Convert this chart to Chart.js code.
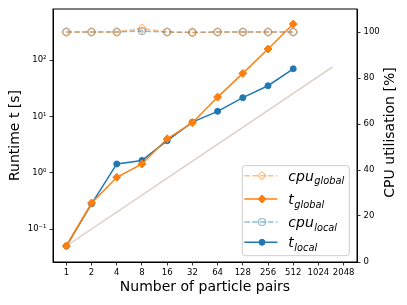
<!DOCTYPE html>
<html>
<head>
<meta charset="utf-8">
<script src="https://cdn.jsdelivr.net/npm/chart.js@4.4.0/dist/chart.umd.min.js"></script>
<style>
  html, body { margin: 0; padding: 0; background: #fff; }
  #wrap { width: 407px; height: 305px; }
</style>
</head>
<body>
<div id="wrap"><canvas id="runtimeChart" width="407" height="305"></canvas></div>
<script>
// Runtime and CPU utilisation against number of particle pairs (log2 x, log10 runtime)

const particlePairs = [1, 2, 4, 8, 16, 32, 64, 128, 256, 512];
const xTickLabels = ['1', '2', '4', '8', '16', '32', '64', '128', '256', '512', '1024', '2048'];

const tGlobal = [0.05, 0.29, 0.83, 1.43, 4.0, 7.7, 22, 58, 157, 436];
const tLocal = [0.05, 0.28, 1.43, 1.65, 3.7, 7.9, 12.3, 21.5, 35, 70];
const cpuGlobal = [100, 100, 100, 101.5, 100, 99.8, 100, 100, 100, 100];
const cpuLocal = [100, 100, 100, 100.4, 100, 99.8, 100, 100, 100, 100];

// ideal linear scaling reference
const idealPairs = [1, 1500];
const idealTime = [0.05, 75];

const runtimeTicks = [0.1, 1, 10, 100];
const runtimeTickLabels = ['10⁻¹', '10⁰', '10¹', '10²'];
const cpuTicks = [0, 20, 40, 60, 80, 100];

const BLUE = '#1f77b4';
const ORANGE = '#ff7f0e';
const BLUE_FADED = 'rgba(31,119,180,0.5)';
const ORANGE_FADED = 'rgba(255,127,14,0.5)';
const DASH = [5.5, 2.4];
const FONT = '"DejaVu Sans", sans-serif';

function toPoints(xs, ys) {
  return xs.map((n, i) => ({ x: Math.log2(n), y: ys[i] }));
}

const legendEntries = [
  { main: 'cpu', sub: 'global', color: ORANGE_FADED, dash: DASH, marker: 'diamond', filled: false },
  { main: 't', sub: 'global', color: ORANGE, dash: [], marker: 'diamond', filled: true },
  { main: 'cpu', sub: 'local', color: BLUE_FADED, dash: DASH, marker: 'circle', filled: false },
  { main: 't', sub: 'local', color: BLUE, dash: [], marker: 'circle', filled: true }
];

function drawMarker(ctx, kind, x, y, filled, color) {
  ctx.beginPath();
  if (kind === 'diamond') {
    const r = 4;
    ctx.moveTo(x, y - r); ctx.lineTo(x + r, y); ctx.lineTo(x, y + r); ctx.lineTo(x - r, y); ctx.closePath();
  } else {
    ctx.arc(x, y, filled ? 3 : 3.5, 0, Math.PI * 2);
  }
  ctx.setLineDash([]);
  ctx.lineWidth = filled ? 1 : 1.2;
  ctx.strokeStyle = color;
  ctx.stroke();
  if (filled) { ctx.fillStyle = color; ctx.fill(); }
}

const extrasPlugin = {
  id: 'extras',
  afterDatasetsDraw(chart) {
    const { ctx, chartArea: a } = chart;
    ctx.save();
    ctx.strokeStyle = '#000';
    ctx.lineWidth = 1;
    ctx.strokeRect(a.left, a.top, a.right - a.left, a.bottom - a.top);
    ctx.restore();
  },
  afterDraw(chart) {
    const { ctx, chartArea: a } = chart;
    ctx.save();

    // right axis title, reads bottom to top
    ctx.translate(390, (a.top + a.bottom) / 2 - 3);
    ctx.rotate(-Math.PI / 2);
    ctx.font = '14px ' + FONT;
    ctx.fillStyle = '#000';
    ctx.textAlign = 'center';
    ctx.textBaseline = 'middle';
    ctx.fillText('CPU utilisation [%]', 0, 0);
    ctx.restore();

    // legend
    const bx = a.right - 114.7, by = a.bottom - 96.3, bw = 107, bh = 90;
    ctx.save();
    ctx.beginPath();
    ctx.roundRect(bx, by, bw, bh, 3);
    ctx.fillStyle = 'rgba(255,255,255,0.8)';
    ctx.fill();
    ctx.strokeStyle = '#cccccc';
    ctx.lineWidth = 1;
    ctx.stroke();

    const rowOffsets = [10, 33.3, 56.3, 76.6];
    legendEntries.forEach((e, i) => {
      const y = by + rowOffsets[i];
      ctx.beginPath();
      ctx.setLineDash(e.dash);
      ctx.strokeStyle = e.color;
      ctx.lineWidth = 1.5;
      ctx.moveTo(bx + 2, y);
      ctx.lineTo(bx + 35, y);
      ctx.stroke();
      drawMarker(ctx, e.marker, bx + 19.7, y, e.filled, e.color);

      ctx.fillStyle = '#000';
      ctx.textAlign = 'left';
      ctx.textBaseline = 'alphabetic';
      ctx.font = 'italic 14px ' + FONT;
      const tx = bx + 46;
      ctx.fillText(e.main, tx, y + 5);
      const w = ctx.measureText(e.main).width;
      ctx.font = 'italic 9.8px ' + FONT;
      ctx.fillText(e.sub, tx + w + 0.5, y + 8.5);
    });
    ctx.restore();
  }
};

new Chart(document.getElementById('runtimeChart'), {
  type: 'line',
  data: {
    datasets: [
      {
        label: 'ideal',
        data: toPoints(idealPairs, idealTime),
        yAxisID: 'y',
        borderColor: '#d9cfc5',
        borderWidth: 1.5,
        pointRadius: 0,
        order: 10
      },
      {
        label: 't_local',
        data: toPoints(particlePairs, tLocal),
        yAxisID: 'y',
        borderColor: BLUE,
        backgroundColor: BLUE,
        borderWidth: 1.5,
        pointStyle: 'circle',
        pointRadius: 3,
        pointBorderWidth: 1,
        order: 4
      },
      {
        label: 't_global',
        data: toPoints(particlePairs, tGlobal),
        yAxisID: 'y',
        borderColor: ORANGE,
        backgroundColor: ORANGE,
        borderWidth: 1.5,
        pointStyle: 'rectRot',
        pointRadius: 4,
        pointBorderWidth: 1,
        order: 3
      },
      {
        label: 'cpu_local',
        data: toPoints(particlePairs, cpuLocal),
        yAxisID: 'y1',
        borderColor: BLUE_FADED,
        borderDash: DASH,
        borderWidth: 1.5,
        pointStyle: 'circle',
        pointRadius: 3.5,
        pointBorderColor: BLUE_FADED,
        pointBackgroundColor: 'rgba(0,0,0,0)',
        pointBorderWidth: 1.2,
        order: 2
      },
      {
        label: 'cpu_global',
        data: toPoints(particlePairs, cpuGlobal),
        yAxisID: 'y1',
        borderColor: ORANGE_FADED,
        borderDash: DASH,
        borderWidth: 1.5,
        pointStyle: 'rectRot',
        pointRadius: 4.5,
        pointBorderColor: ORANGE_FADED,
        pointBackgroundColor: 'rgba(0,0,0,0)',
        pointBorderWidth: 1.2,
        order: 1
      }
    ]
  },
  options: {
    responsive: false,
    animation: false,
    devicePixelRatio: 1,
    layout: { padding: { top: 9, left: 0, right: 0, bottom: 0 } },
    plugins: { legend: { display: false }, tooltip: { enabled: false } },
    scales: {
      x: {
        type: 'linear',
        position: 'bottom',
        min: -0.53,
        max: 11.53,
        afterBuildTicks: s => { s.ticks = xTickLabels.map((_, i) => ({ value: i })); },
        afterFit: s => { s.height = 43; },
        ticks: {
          callback: v => xTickLabels[Math.round(v)],
          font: { family: FONT, size: 8.5 },
          color: '#000',
          maxRotation: 0,
          autoSkip: false,
          padding: 2
        },
        grid: { drawOnChartArea: false, drawTicks: true, tickLength: 3.5, color: '#000', lineWidth: 0.8 },
        border: { color: '#000', width: 1 },
        title: {
          display: true,
          text: 'Number of particle pairs',
          font: { family: FONT, size: 14 },
          color: '#000',
          padding: { top: 0, bottom: 9.6 }
        }
      },
      y: {
        type: 'logarithmic',
        position: 'left',
        min: 0.026,
        max: 806,
        afterBuildTicks: s => { s.ticks = runtimeTicks.map(v => ({ value: v })); },
        afterFit: s => { s.width = 53; },
        ticks: {
          callback: v => runtimeTickLabels[runtimeTicks.indexOf(v)],
          font: { family: FONT, size: 8.5 },
          color: '#000',
          padding: 3
        },
        grid: { drawOnChartArea: false, drawTicks: true, tickLength: 3.5, color: '#000', lineWidth: 0.8 },
        border: { color: '#000', width: 1 },
        title: {
          display: true,
          text: 'Runtime t [s]',
          font: { family: FONT, size: 14 },
          color: '#000',
          padding: { top: 7, bottom: 0 }
        }
      },
      y1: {
        type: 'linear',
        position: 'right',
        min: 0,
        max: 110,
        afterBuildTicks: s => { s.ticks = cpuTicks.map(v => ({ value: v })); },
        afterFit: s => { s.width = 50; },
        ticks: {
          font: { family: FONT, size: 8.5 },
          color: '#000',
          padding: 3
        },
        grid: { drawOnChartArea: false, drawTicks: true, tickLength: 3.5, color: '#000', lineWidth: 0.8 },
        border: { color: '#000', width: 1 }
      }
    }
  },
  plugins: [extrasPlugin]
});
</script>
</body>
</html>
